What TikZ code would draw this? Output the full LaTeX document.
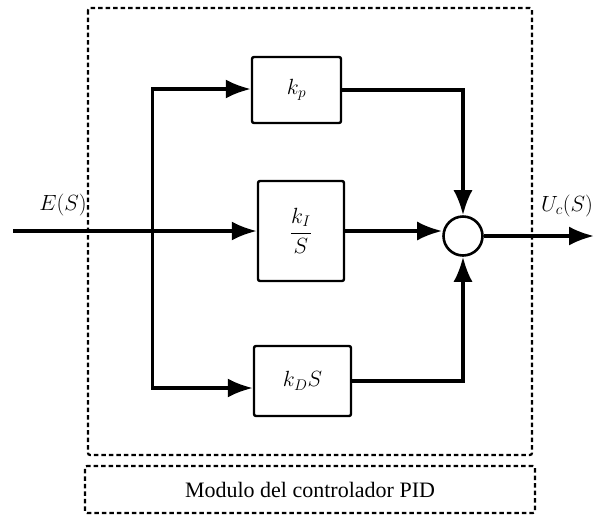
\documentclass[tikz,border=0pt]{standalone}
\usepackage{fix-cm}
\usepackage[no-math]{fontspec}
\setmainfont{Liberation Serif}
\usetikzlibrary{arrows.meta,calc}
\begin{document}
\begin{tikzpicture}[x=1pt,y=-1pt,
  font=\fontsize{22}{26}\selectfont,
  blockbox/.style={draw,line width=2.4pt,rounded corners=2pt,minimum width=#1,inner sep=0pt},
  sig/.style={line width=3.3pt,-{Latex[length=25pt,width=19pt]}},
  plain/.style={line width=3.3pt},
  frame/.style={draw,line width=2.2pt,dash pattern=on 4.5pt off 3pt,rounded corners=2pt},
  sumnode/.style={draw,circle,line width=2.6pt,minimum size=39pt,inner sep=0pt}]
\useasboundingbox (0,0) rectangle (594,515);

% controller frame and its caption box
\draw[frame] (88,8) rectangle (532,455);
\node[frame,minimum width=450pt,minimum height=47pt,inner sep=0pt] (cap) at (310,489.5) {Modulo del controlador PID};

% gain blocks
\node[blockbox=89pt,minimum height=66pt] (kp) at (296.5,90) {$k_p$};
\node[blockbox=86pt,minimum height=100pt] (ki) at (301,231) {$\displaystyle\frac{k_I}{S}$};
\node[blockbox=97pt,minimum height=70pt] (kd) at (302.5,381) {$k_DS$};

% summing junction
\node[sumnode] (sum) at (463,236) {};

% signal endpoints
\coordinate (in) at (13,231);
\coordinate (out) at (594,236);

\node (es) at (63,205) {$E(S)$};
\node (uc) at (567,206) {$U_c(S)$};

% input and branches
\draw[sig] (in) -- (ki.west);
\draw[sig] ($(kp.west)+(0,-1)$) ++(-98,0) coordinate (tp) (tp) -- ($(kp.west)+(0,-1)$);
\draw[sig] (kd.west |- 0,388) ++(-100,0) coordinate (bt) (bt) -- (kd.west |- 0,388);
\draw[plain,line cap=rect] (tp) -- (bt);

% outputs into the summing junction
\draw[sig] (kp.east) -| (sum.north);
\draw[sig] (ki.east) -- (sum.west |- ki.east);
\draw[sig] (kd.east) -| (sum.south);
\draw[sig] (sum.east) -- (out);
\end{tikzpicture}
\end{document}
